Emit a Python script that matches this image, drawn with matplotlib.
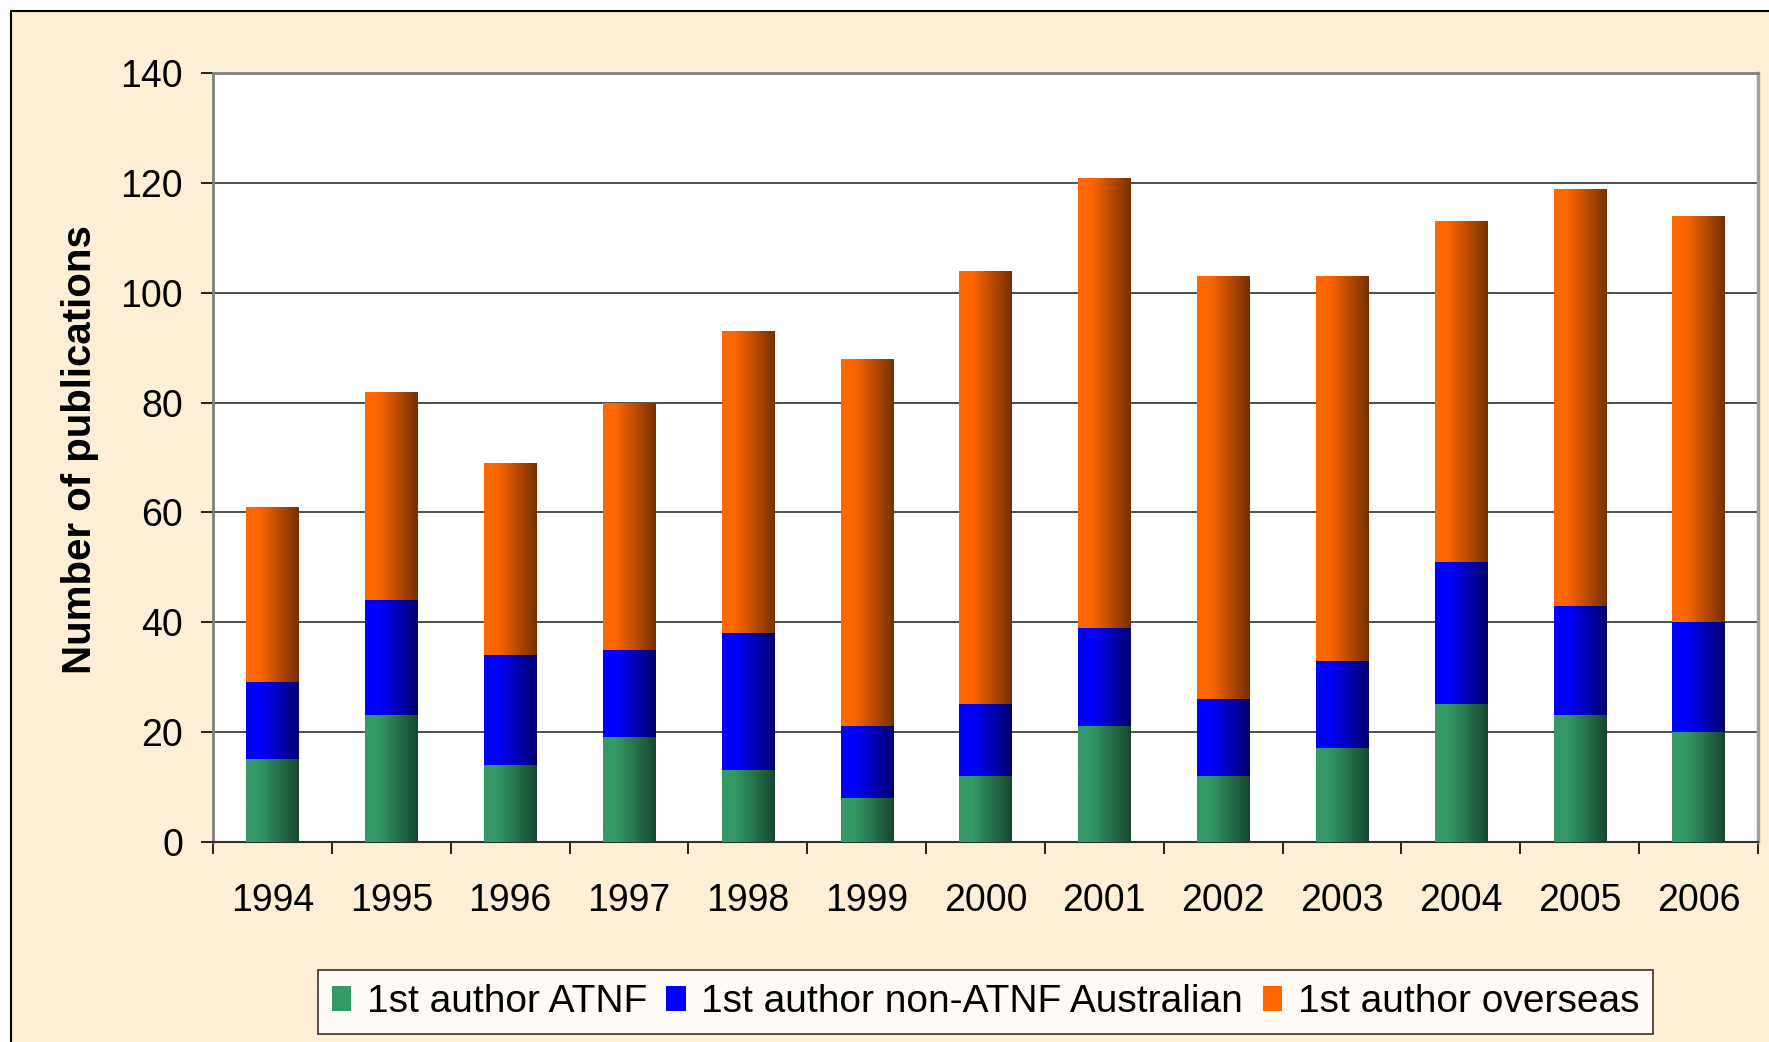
import numpy as np
import matplotlib
matplotlib.use("Agg")
import matplotlib.pyplot as plt
from matplotlib.patches import Rectangle, Patch
from matplotlib.colors import to_rgb

plt.rcParams['font.family'] = ['Liberation Sans', 'DejaVu Sans']

# data
years = ['1994', '1995', '1996', '1997', '1998', '1999', '2000',
         '2001', '2002', '2003', '2004', '2005', '2006']
atnf = [15, 23, 14, 19, 13, 8, 12, 21, 12, 17, 25, 23, 20]
non_atnf_aus = [14, 21, 20, 16, 25, 13, 13, 18, 14, 16, 26, 20, 20]
overseas = [32, 38, 35, 45, 55, 67, 79, 82, 77, 70, 62, 76, 74]

labels = ['1st author ATNF', '1st author non-ATNF Australian', '1st author overseas']
light = ['#339966', '#0000FF', '#FF6600']
dark = ['#17472F', '#00006E', '#753000']

fig = plt.figure(figsize=(17.69, 10.42), dpi=100, facecolor='white')

# beige chart area with a thin dark frame
fig.patches.append(Rectangle((11 / 1769, -0.02), 1.05, 1 - 11 / 1042 + 0.02,
                             transform=fig.transFigure, facecolor='#FCEFD5',
                             edgecolor='black', lw=1.5, zorder=-10))

ax = fig.add_axes([0.1204, 0.1923, 0.8734, 0.7374])
ax.set_facecolor('white')

x = np.arange(len(years))
bottom = np.zeros(len(years))
t = np.linspace(0, 1, 256)
f = np.clip((t - 0.25) / 0.75, 0, 1)

for vals, c1, c2 in zip([atnf, non_atnf_aus, overseas], light, dark):
    bars = ax.bar(x, vals, width=0.44, bottom=bottom, color=c1, zorder=2)
    a, b = np.array(to_rgb(c1)), np.array(to_rgb(c2))
    grad = (a[None, :] * (1 - f[:, None]) + b[None, :] * f[:, None])[None, :, :]
    for p in bars:
        x0, y0 = p.get_x(), p.get_y()
        im = ax.imshow(grad, extent=(x0, x0 + p.get_width(), y0, y0 + p.get_height()),
                       aspect='auto', interpolation='bilinear', zorder=3)
        im.set_clip_path(p)
    bottom += np.array(vals)

ax.set_xlim(-0.5, len(years) - 0.5)
ax.set_ylim(0, 140)
ax.set_yticks(np.arange(0, 141, 20))
ax.yaxis.grid(True, color='#404040', lw=1.3)
ax.set_axisbelow(True)

ax.set_xticks(x)
ax.set_xticklabels(years)
ax.set_xticks(np.arange(-0.5, len(years), 1), minor=True)
ax.tick_params(axis='x', which='major', length=0, pad=30, labelsize=27)
ax.tick_params(axis='x', which='minor', length=8.6, width=1.2, direction='out')
ax.tick_params(axis='y', length=8.6, width=1.2, direction='out', pad=13, labelsize=27)

for s in ['left', 'top']:
    ax.spines[s].set_color('#808080')
    ax.spines[s].set_linewidth(2)
ax.spines['right'].set_color('#A0A0A0')
ax.spines['right'].set_linewidth(2.5)
ax.spines['bottom'].set_color('#303030')
ax.spines['bottom'].set_linewidth(1.5)

ax.set_ylabel('Number of publications', fontsize=29, fontweight='bold')
ax.yaxis.set_label_coords(-0.074, 0.51)

handles = [Patch(facecolor=c) for c in light]
leg = fig.legend(handles, labels, loc='center', bbox_to_anchor=(0.557, 0.0384),
                 ncol=3, fontsize=28, frameon=True, fancybox=False,
                 handlelength=0.5, handleheight=0.6, handletextpad=0.4,
                 columnspacing=0.5, borderpad=0.35, borderaxespad=0)
leg.get_frame().set_edgecolor('black')
leg.get_frame().set_linewidth(1.2)

fig.savefig('out.png', dpi=100, facecolor=fig.get_facecolor())
